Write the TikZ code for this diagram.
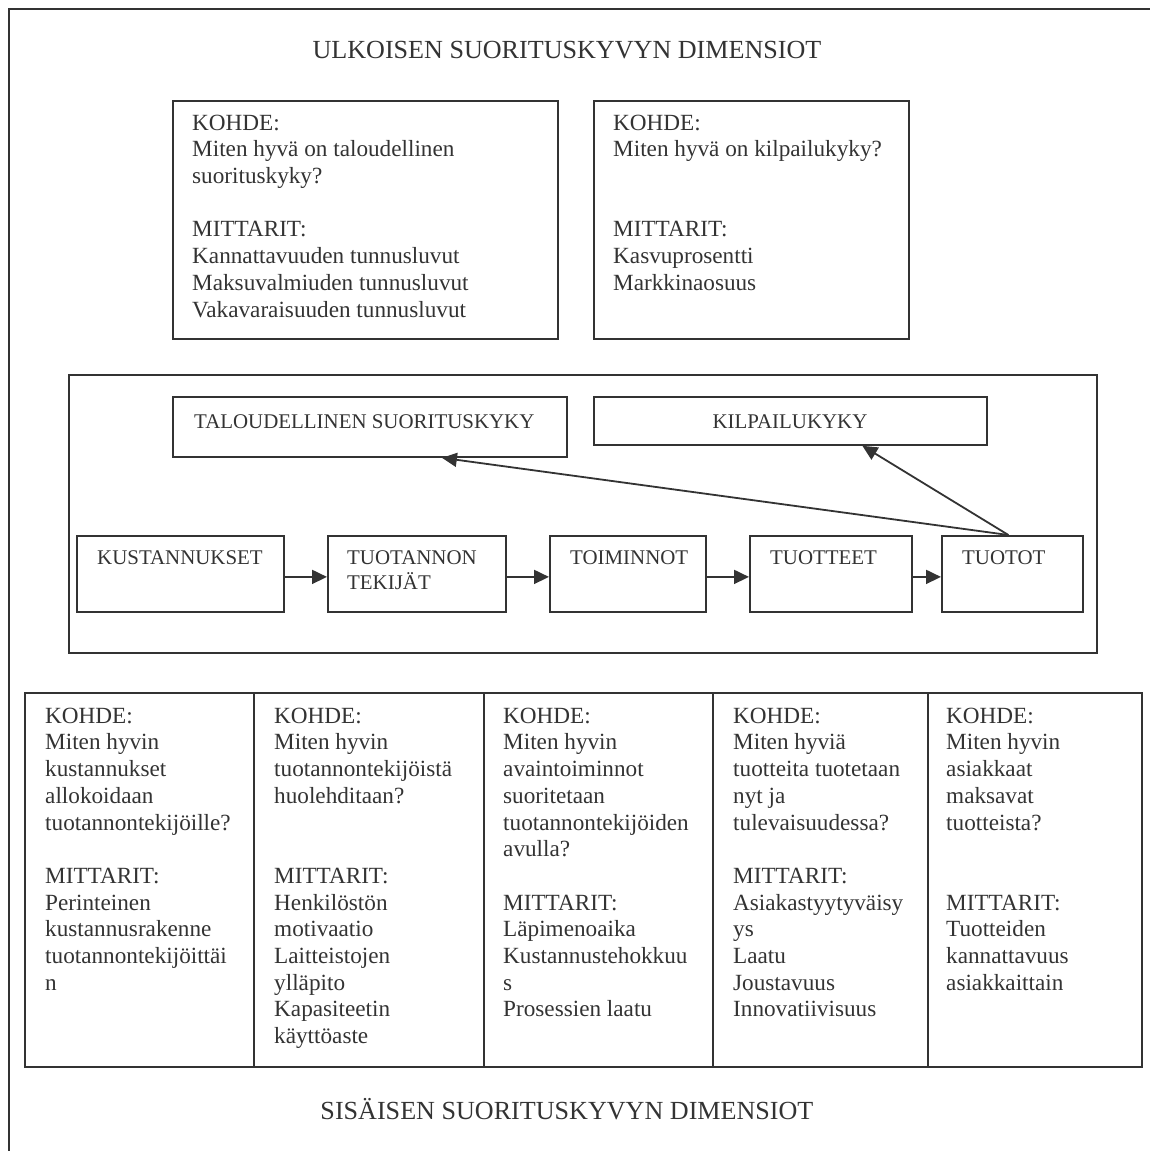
\documentclass[tikz,border=0pt]{standalone}
\usepackage{fontspec}
\setmainfont{Liberation Serif}
\usetikzlibrary{arrows.meta}
\definecolor{ink}{HTML}{333333}
\begin{document}
\begin{tikzpicture}[x=1pt,y=-1pt,
  frame/.style={draw=ink, line width=1.8pt},
  box/.style={frame, rectangle, inner sep=0pt, anchor=north west},
  txt/.style={text=ink, font=\fontsize{23.2}{26.7}\selectfont, inner sep=0pt},
  chain/.style={text=ink, font=\fontsize{20.9}{24}\selectfont, inner sep=0pt},
  head/.style={text=ink, font=\fontsize{26.1}{30}\selectfont, inner sep=0pt, anchor=base},
  blk/.style={txt, align=left, anchor=north west},
  lbl/.style={chain, anchor=base west},
  flow/.style={draw=ink, line width=1.8pt, -{Triangle[length=15pt,width=14pt]}}
]
\useasboundingbox (0,0) rectangle (1150,1151);

% outer frame (open on the right and at the bottom)
\draw[frame, line join=miter] (9,1151) -- (9,9) -- (1150,9);

% external dimensions
\node[head] (ttop) at (567,58) {ULKOISEN SUORITUSKYVYN DIMENSIOT};

\node[box, minimum width=385pt, minimum height=238pt] (ka) at (172,100) {};
\node[blk] (kat) at (192,111.3) {\strut KOHDE:\\Miten hyvä on taloudellinen\\suorituskyky?\\~\\MITTARIT:\\Kannattavuuden tunnusluvut\\Maksuvalmiuden tunnusluvut\\Vakavaraisuuden tunnusluvut};

\node[box, minimum width=315pt, minimum height=238pt] (kb) at (593,100) {};
\node[blk] (kbt) at (613,111.3) {\strut KOHDE:\\Miten hyvä on kilpailukyky?\\~\\~\\MITTARIT:\\Kasvuprosentti\\Markkinaosuus};

% performance chain
\node[box, minimum width=1028pt, minimum height=278pt] (mid) at (68,374) {};

\node[box, minimum width=394pt, minimum height=60pt] (tal) at (172,396) {};
\node[lbl] (talt) at (194,428) {TALOUDELLINEN SUORITUSKYKY};
\node[box, minimum width=393pt, minimum height=48pt] (kil) at (593,396) {};
\node[chain, anchor=base] (kilt) at (790,428) {KILPAILUKYKY};

\node[box, minimum width=207pt, minimum height=76pt] (kus) at (76,535) {};
\node[lbl] (kust) at (97,564) {KUSTANNUKSET};
\node[box, minimum width=178pt, minimum height=76pt] (tuo) at (327,535) {};
\node[chain, align=left, anchor=north west] (tuot) at (347,547.2) {\strut TUOTANNON\\TEKIJÄT};
\node[box, minimum width=156pt, minimum height=76pt] (toi) at (549,535) {};
\node[lbl] (toit) at (570,564) {TOIMINNOT};
\node[box, minimum width=162pt, minimum height=76pt] (tte) at (749,535) {};
\node[lbl] (ttet) at (770,564) {TUOTTEET};
\node[box, minimum width=141pt, minimum height=76pt] (tot) at (941,535) {};
\node[lbl] (tott) at (962,564) {TUOTOT};

\draw[flow] ([yshift=-3pt]kus.east) -- ([yshift=-3pt]tuo.west);
\draw[flow] ([yshift=-3pt]tuo.east) -- ([yshift=-3pt]toi.west);
\draw[flow] ([yshift=-3pt]toi.east) -- ([yshift=-3pt]tte.west);
\draw[flow] ([yshift=-3pt]tte.east) -- ([yshift=-3pt]tot.west);
\draw[flow] ([xshift=-4pt]tot.north) -- ([xshift=72pt]tal.south);
\draw[flow] ([xshift=-4pt]tot.north) -- ([xshift=72pt]kil.south);

% internal dimensions
\node[box, minimum width=229pt, minimum height=374pt] (c1) at (24,692) {};
\node[box, minimum width=230pt, minimum height=374pt] (c2) at (253,692) {};
\node[box, minimum width=229pt, minimum height=374pt] (c3) at (483,692) {};
\node[box, minimum width=215pt, minimum height=374pt] (c4) at (712,692) {};
\node[box, minimum width=214pt, minimum height=374pt] (c5) at (927,692) {};

\node[blk] (c1t) at (45,704.3) {\strut KOHDE:\\Miten hyvin\\kustannukset\\allokoidaan\\tuotannontekijöille?\\~\\MITTARIT:\\Perinteinen\\kustannusrakenne\\tuotannontekijöittäi\\n};
\node[blk] (c2t) at (274,704.3) {\strut KOHDE:\\Miten hyvin\\tuotannontekijöistä\\huolehditaan?\\~\\~\\MITTARIT:\\Henkilöstön\\motivaatio\\Laitteistojen\\ylläpito\\Kapasiteetin\\käyttöaste};
\node[blk] (c3t) at (503,704.3) {\strut KOHDE:\\Miten hyvin\\avaintoiminnot\\suoritetaan\\tuotannontekijöiden\\avulla?\\~\\MITTARIT:\\Läpimenoaika\\Kustannustehokkuu\\s\\Prosessien laatu};
\node[blk] (c4t) at (733,704.3) {\strut KOHDE:\\Miten hyviä\\tuotteita tuotetaan\\nyt ja\\tulevaisuudessa?\\~\\MITTARIT:\\Asiakastyytyväisy\\ys\\Laatu\\Joustavuus\\Innovatiivisuus};
\node[blk] (c5t) at (946,704.3) {\strut KOHDE:\\Miten hyvin\\asiakkaat\\maksavat\\tuotteista?\\~\\~\\MITTARIT:\\Tuotteiden\\kannattavuus\\asiakkaittain};

\node[head] (tbot) at (567,1119) {SISÄISEN SUORITUSKYVYN DIMENSIOT};
\end{tikzpicture}
\end{document}
